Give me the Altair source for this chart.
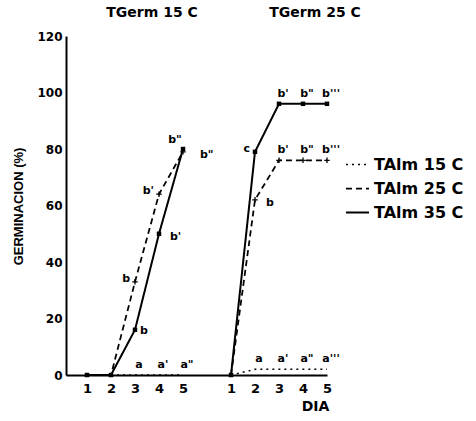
import altair as alt
import pandas as pd

days = [1, 2, 3, 4, 5]
panels = ["TGerm 15 C", "TGerm 25 C"]
series = ["TAlm 15 C", "TAlm 25 C", "TAlm 35 C"]

# germination (%) per day, one list per germination temp x storage temp
germ = {
    ("TGerm 15 C", "TAlm 15 C"): [0, 0, 0, 0, 0],
    ("TGerm 15 C", "TAlm 25 C"): [0, 0, 33, 64, 79],
    ("TGerm 15 C", "TAlm 35 C"): [0, 0, 16, 50, 80],
    ("TGerm 25 C", "TAlm 15 C"): [0, 2, 2, 2, 2],
    ("TGerm 25 C", "TAlm 25 C"): [0, 62, 76, 76, 76],
    ("TGerm 25 C", "TAlm 35 C"): [0, 79, 96, 96, 96],
}

# significance letters (None = no letter)
letters = {
    ("TGerm 15 C", "TAlm 15 C"): [None, None, "a", "a'", 'a"'],
    ("TGerm 15 C", "TAlm 25 C"): [None, None, "b", "b'", 'b"'],
    ("TGerm 15 C", "TAlm 35 C"): [None, None, "b", "b'", 'b"'],
    ("TGerm 25 C", "TAlm 15 C"): [None, "a", "a'", 'a"', "a'''"],
    ("TGerm 25 C", "TAlm 25 C"): [None, "b", "b'", 'b"', "b'''"],
    ("TGerm 25 C", "TAlm 35 C"): [None, "c", "b'", 'b"', "b'''"],
}

# where each letter sits relative to its point (default: above)
side_of = {
    ("TGerm 15 C", "TAlm 25 C", 3): "left",
    ("TGerm 15 C", "TAlm 25 C", 4): "left",
    ("TGerm 15 C", "TAlm 25 C", 5): "right_far",
    ("TGerm 15 C", "TAlm 35 C", 3): "right_near",
    ("TGerm 15 C", "TAlm 35 C", 4): "right",
    ("TGerm 15 C", "TAlm 35 C", 5): "upper_left",
    ("TGerm 25 C", "TAlm 25 C", 2): "right",
    ("TGerm 25 C", "TAlm 35 C", 2): "left",
}
offsets = {
    "above": dict(dx=4, dy=-10, align="center"),
    "left": dict(dx=-5, dy=-3, align="right"),
    "upper_left": dict(dx=-8, dy=-9, align="center"),
    "right_near": dict(dx=5, dy=1, align="left"),
    "right": dict(dx=11, dy=3, align="left"),
    "right_far": dict(dx=17, dy=3, align="left"),
}

# the second panel continues on the same axis after a gap of one day
PANEL_SHIFT = 6

rows, lab_rows = [], []
for pi, panel in enumerate(panels):
    for s in series:
        for d, v, t in zip(days, germ[(panel, s)], letters[(panel, s)]):
            pos = d + pi * PANEL_SHIFT
            rows.append(dict(panel=panel, series=s, day=d, pos=pos, value=v))
            if t is not None:
                lab_rows.append(dict(pos=pos, value=v, txt=t,
                                     side=side_of.get((panel, s, d), "above")))
df = pd.DataFrame(rows)
labels = pd.DataFrame(lab_rows)

FONT = "DejaVu Sans"

x_enc = alt.X(
    "pos:Q",
    scale=alt.Scale(domain=[0.125, 11], nice=False, zero=False),
    axis=alt.Axis(
        values=[d + pi * PANEL_SHIFT for pi in range(len(panels)) for d in days],
        labelExpr="'' + (datum.value > 6 ? datum.value - 6 : datum.value)",
        title="DIA", titleX=249, titleY=31, titleBaseline="middle",
        titleAnchor="start", titleAlign="center",
        titleFont=FONT, titleFontSize=14, titleFontWeight="bold",
        labelFont=FONT, labelFontSize=13, labelFontWeight="bold",
        labelPadding=7, labelOverlap=False, labelFlush=False,
        ticks=False, grid=False, domainWidth=2, domainColor="black",
        labelColor="black", titleColor="black",
    ),
)
y_enc = alt.Y(
    "value:Q",
    scale=alt.Scale(domain=[0, 120], nice=False),
    axis=alt.Axis(
        values=[0, 20, 40, 60, 80, 100, 120],
        title="GERMINACION (%)", titleX=-48, titleY=170, titleAngle=270,
        titleBaseline="middle", titleAlign="center", titleAnchor="start",
        titleFont="Liberation Sans", titleFontSize=13, titleFontWeight="bold",
        labelFont=FONT, labelFontSize=12, labelFontWeight="bold",
        labelPadding=4, labelFlush=False, labelOverlap=False,
        ticks=False, grid=False, domainWidth=2, domainColor="black",
        labelColor="black", titleColor="black",
    ),
)

base = alt.Chart(df)

lines = base.mark_line(color="black").encode(
    x=x_enc,
    y=y_enc,
    detail="panel:N",
    strokeDash=alt.StrokeDash(
        "series:N",
        scale=alt.Scale(domain=series, range=[[2, 4], [6, 4], [1, 0]]),
        legend=alt.Legend(
            orient="none", legendX=279, legendY=116, title=None,
            symbolType="stroke", symbolSize=529, symbolStrokeWidth=2,
            symbolStrokeColor="black",
            labelFont=FONT, labelFontSize=16, labelFontWeight="bold",
            labelColor="black", labelOffset=4, rowPadding=3,
        ),
    ),
    strokeWidth=alt.StrokeWidth(
        "series:N", scale=alt.Scale(domain=series, range=[1.5, 2, 2]), legend=None
    ),
)

squares = base.transform_filter(alt.datum.series == "TAlm 35 C").mark_point(
    shape="square", filled=True, size=20, color="black", opacity=1
).encode(x=x_enc, y=y_enc)

crosses = base.transform_filter(
    (alt.datum.series == "TAlm 25 C") & (alt.datum.value > 0)
).mark_point(
    shape="M-1,0L1,0M0,-1L0,1", filled=False, size=30, strokeWidth=1.3,
    color="black", opacity=1
).encode(x=x_enc, y=y_enc)

letter_layers = []
for side, off in offsets.items():
    letter_layers.append(
        alt.Chart(labels).transform_filter(alt.datum.side == side).mark_text(
            font=FONT, fontSize=11, fontWeight="bold", color="black",
            baseline="middle", **off
        ).encode(x=x_enc, y=y_enc, text="txt:N")
    )

# panel headings above the plot
title_x = {"TGerm 15 C": 86, "TGerm 25 C": 249}
heads = [
    alt.Chart(alt.Data(values=[{"t": p}])).mark_text(
        font=FONT, fontSize=14, fontWeight="bold", color="black",
        align="center", baseline="middle"
    ).encode(x=alt.value(title_x[p]), y=alt.value(-23), text="t:N")
    for p in panels
]

chart = alt.layer(lines, squares, crosses, *letter_layers, *heads).properties(
    width=261,
    height=339,
    autosize=alt.AutoSizeParams(type="none"),
    padding={"left": 66, "top": 36, "right": 149, "bottom": 46},
    background="white",
).configure_view(stroke=None).configure_axis(labelOverlap=False)

chart.save("out.html", embed_options={"renderer": "svg", "actions": False})
